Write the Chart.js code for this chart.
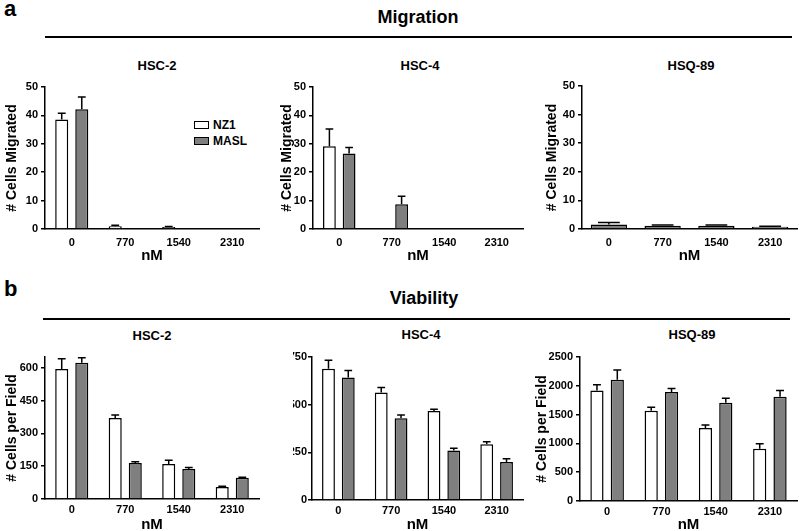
<!DOCTYPE html>
<html>
<head>
<meta charset="utf-8">
<script src="https://cdn.jsdelivr.net/npm/chart.js@4.4.1/dist/chart.umd.min.js"></script>
<style>
  html, body { margin:0; padding:0; background:#fff; }
  #fig { position:relative; width:800px; height:531px; overflow:hidden; background:#fff;
         font-family:'Liberation Sans', Arial, Helvetica, sans-serif; color:#000; }
  .t { position:absolute; font-weight:bold; white-space:nowrap; line-height:1; transform:translate(-50%,-50%); }
  .rule { position:absolute; height:2px; background:#000; }
  .box { position:absolute; box-sizing:border-box; border:1.5px solid #000; }
  .cw { position:absolute; }
  .cw canvas { display:block; }
</style>
</head>
<body>
<div id="fig">
  <div class="t" style="font-size:22px;transform:none;left:4px;top:-2px;">a</div>
  <div class="t" style="left:418px;top:17px;font-size:18px;">Migration</div>
  <div class="rule" style="left:45px;top:36px;width:747px;"></div>
  <div class="t" style="left:157px;top:65px;font-size:13px;">HSC-2</div>
  <div class="t" style="left:420px;top:65px;font-size:13px;">HSC-4</div>
  <div class="t" style="left:691px;top:65px;font-size:13px;">HSQ-89</div>

  <div class="t" style="font-size:22px;transform:none;left:4px;top:278px;">b</div>
  <div class="t" style="left:424px;top:298px;font-size:18px;">Viability</div>
  <div class="rule" style="left:43px;top:318px;width:747px;"></div>
  <div class="t" style="left:152px;top:335px;font-size:13px;">HSC-2</div>
  <div class="t" style="left:421px;top:334px;font-size:13px;">HSC-4</div>
  <div class="t" style="left:692px;top:334px;font-size:13px;">HSQ-89</div>

  <div class="box" style="left:194px;top:121px;width:15px;height:8px;background:#fff;"></div>
  <div class="t" style="left:213px;top:125px;font-size:12px;transform:translate(0,-50%);">NZ1</div>
  <div class="box" style="left:194px;top:137px;width:15px;height:8px;background:#7f7f7f;"></div>
  <div class="t" style="left:213px;top:141px;font-size:12px;transform:translate(0,-50%);">MASL</div>
</div>
<script>
// ---------- data ----------
const doses = ['0', '770', '1540', '2310'];
const seriesNames = ['NZ1', 'MASL'];

// y-axis tick values
const migTicks       = [0, 10, 20, 30, 40, 50];
const viaHSC2Ticks   = [0, 150, 300, 450, 600];
const viaHSC4Ticks   = [0, 250, 500, 750];
const viaHSQ89Ticks  = [0, 500, 1000, 1500, 2000, 2500];

// Migration (# cells migrated), mean and error (upper SEM)
const migHSC2_NZ1      = [38.6, 1.0, 0.7, 0];
const migHSC2_NZ1_err  = [2.2, 0.3, 0.2, 0];
const migHSC2_MASL     = [42.2, 0.2, 0.2, 0];
const migHSC2_MASL_err = [4.3, 0, 0, 0];

const migHSC4_NZ1      = [29.1, 0, 0, 0];
const migHSC4_NZ1_err  = [6.1, 0, 0, 0];
const migHSC4_MASL     = [26.6, 8.7, 0, 0];
const migHSC4_MASL_err = [2.1, 2.8, 0, 0];

const migHSQ89_MASL     = [1.6, 1.1, 1.1, 0.8];
const migHSQ89_MASL_err = [0.7, 0.3, 0.3, 0.2];

// Viability (# cells per field)
const viaHSC2_NZ1      = [595, 371, 160, 55];
const viaHSC2_NZ1_err  = [47, 14, 17, 3];
const viaHSC2_MASL     = [624, 165, 137, 97];
const viaHSC2_MASL_err = [22, 5, 7, 3];

const viaHSC4_NZ1      = [689, 564, 467, 293];
const viaHSC4_NZ1_err  = [44, 26, 9, 12];
const viaHSC4_MASL     = [642, 429, 260, 199];
const viaHSC4_MASL_err = [37, 17, 11, 17];

const viaHSQ89_NZ1      = [1919, 1565, 1268, 907];
const viaHSQ89_NZ1_err  = [99, 64, 52, 87];
const viaHSQ89_MASL     = [2105, 1891, 1704, 1809];
const viaHSQ89_MASL_err = [170, 63, 82, 110];

// ---------- styles ----------
const WHITE = '#ffffff', GREY = '#7f7f7f';
Chart.defaults.font.family = "'Liberation Sans', Arial, Helvetica, sans-serif";
Chart.defaults.color = '#000';

const errorBars = {
  id: 'errorBars',
  afterDatasetsDraw(chart) {
    const ctx = chart.ctx, ys = chart.scales.y;
    chart.data.datasets.forEach((ds, i) => {
      const meta = chart.getDatasetMeta(i);
      meta.data.forEach((bar, j) => {
        const e = ds.errors ? ds.errors[j] : 0;
        if (!e) return;
        const yTop = ys.getPixelForValue(ds.data[j] + e);
        const cw = Math.min(bar.width * 0.6, 22) / 2;
        ctx.save();
        ctx.strokeStyle = '#000';
        ctx.lineWidth = 1.5;
        ctx.beginPath();
        ctx.moveTo(bar.x, bar.y);
        ctx.lineTo(bar.x, yTop);
        ctx.moveTo(bar.x - cw, yTop);
        ctx.lineTo(bar.x + cw, yTop);
        ctx.stroke();
        ctx.restore();
      });
    });
  }
};

function ds(label, data, errors, color, barPct) {
  return { label, data, errors, backgroundColor: color, borderColor: '#000',
           borderWidth: 1.5, borderSkipped: 'start',
           categoryPercentage: 0.75, barPercentage: barPct || 0.65 };
}

function makeChart(L) {
  const wrap = document.createElement('div');
  wrap.className = 'cw';
  wrap.style.left = L.left + 'px';
  wrap.style.top = L.top + 'px';
  const cv = document.createElement('canvas');
  cv.width = L.w; cv.height = L.h;
  cv.style.width = L.w + 'px'; cv.style.height = L.h + 'px';
  wrap.appendChild(cv);
  document.getElementById('fig').appendChild(wrap);
  new Chart(cv, {
    type: 'bar',
    data: { labels: doses, datasets: L.datasets },
    plugins: [errorBars],
    options: {
      responsive: false, animation: false, devicePixelRatio: 1,
      layout: { padding: { top: L.padTop, right: L.padRight, left: 0, bottom: 0 } },
      plugins: { legend: { display: false }, tooltip: { enabled: false }, title: { display: false } },
      scales: {
        x: {
          offset: true,
          grid: { display: false, drawTicks: false },
          border: { display: true, color: '#000', width: 1.5 },
          ticks: { padding: L.xPad, font: { size: 11, weight: 'bold' }, color: '#000', maxRotation: 0 },
          title: { display: true, text: 'nM', color: '#000',
                   font: { size: 15, weight: 'bold', lineHeight: L.nmLH }, padding: { top: 0, bottom: 0 } },
          afterFit(s) { s.height = L.xH; }
        },
        y: {
          min: 0, max: L.yMax,
          grid: { display: true, drawOnChartArea: false, drawTicks: true, tickLength: 4, color: '#000', lineWidth: 1.5 },
          border: { display: true, color: '#000', width: 1.5 },
          ticks: { padding: L.yPad, font: { size: 11, weight: 'bold' }, color: '#000',
                   callback: v => String(v) },
          afterBuildTicks(s) { s.ticks = L.yTicks.map(v => ({ value: v })); },
          title: { display: !!L.yTitle, text: L.yTitle || '', color: '#000',
                   font: { size: 14, weight: 'bold' }, padding: { top: 4, bottom: 0 } },
          afterFit(s) { s.width = L.yW; }
        }
      }
    }
  });
}

const layouts = [
  { left: 0, top: 50, w: 262, h: 215, yW: 45, padTop: 37, padRight: 3, xH: 36, xPad: 7, nmLH: 1.2, yPad: 3,
    yMax: 50, yTicks: migTicks, yTitle: '# Cells Migrated',
    datasets: [ds(seriesNames[0], migHSC2_NZ1, migHSC2_NZ1_err, WHITE), ds(seriesNames[1], migHSC2_MASL, migHSC2_MASL_err, GREY)] },
  { left: 275, top: 50, w: 251, h: 215, yW: 38, padTop: 37, padRight: 3, xH: 36, xPad: 7, nmLH: 1.2, yPad: 3,
    yMax: 50, yTicks: migTicks, yTitle: '# Cells Migrated',
    datasets: [ds(seriesNames[0], migHSC4_NZ1, migHSC4_NZ1_err, WHITE), ds(seriesNames[1], migHSC4_MASL, migHSC4_MASL_err, GREY)] },
  { left: 540, top: 50, w: 260, h: 215, yW: 42, padTop: 36, padRight: 3, xH: 36, xPad: 7, nmLH: 1.2, yPad: 3,
    yMax: 50, yTicks: migTicks, yTitle: '# Cells Migrated',
    datasets: [ds(seriesNames[1], migHSQ89_MASL, migHSQ89_MASL_err, GREY, 0.9)] },
  { left: 0, top: 320, w: 262, h: 211, yW: 45, padTop: 37, padRight: 3, xH: 32, xPad: 4, nmLH: 0.8, yPad: 3,
    yMax: 650, yTicks: viaHSC2Ticks, yTitle: '# Cells per Field',
    datasets: [ds(seriesNames[0], viaHSC2_NZ1, viaHSC2_NZ1_err, WHITE), ds(seriesNames[1], viaHSC2_MASL, viaHSC2_MASL_err, GREY)] },
  { left: 293, top: 320, w: 233, h: 211, yW: 19, padTop: 37, padRight: 3, xH: 31, xPad: 4, nmLH: 0.8, yPad: 1,
    yMax: 750, yTicks: viaHSC4Ticks, yTitle: '',
    datasets: [ds(seriesNames[0], viaHSC4_NZ1, viaHSC4_NZ1_err, WHITE), ds(seriesNames[1], viaHSC4_MASL, viaHSC4_MASL_err, GREY)] },
  { left: 530, top: 320, w: 270, h: 211, yW: 50, padTop: 37, padRight: 3, xH: 30, xPad: 4, nmLH: 0.8, yPad: 3,
    yMax: 2500, yTicks: viaHSQ89Ticks, yTitle: '# Cells per Field',
    datasets: [ds(seriesNames[0], viaHSQ89_NZ1, viaHSQ89_NZ1_err, WHITE), ds(seriesNames[1], viaHSQ89_MASL, viaHSQ89_MASL_err, GREY)] }
];
layouts.forEach(makeChart);
</script>
</body>
</html>
